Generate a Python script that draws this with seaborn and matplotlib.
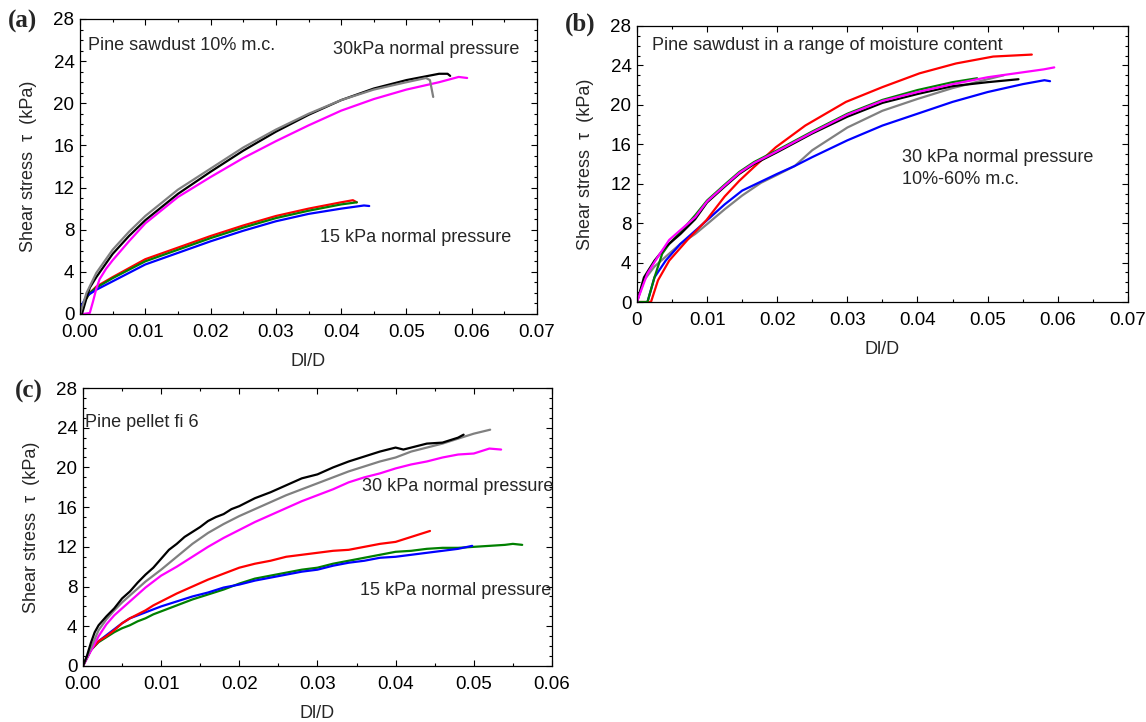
import pandas as pd
import seaborn as sns
import matplotlib.pyplot as plt
from matplotlib.ticker import MultipleLocator, FormatStrFormatter

# ---- panel (a): pine sawdust 10% m.c. ----
a_black_x = [0.0003, 0.001, 0.0015, 0.0025, 0.005, 0.0075, 0.01, 0.015, 0.02, 0.025, 0.03, 0.035, 0.04, 0.045, 0.05, 0.055, 0.0563, 0.0567]
a_black_y = [0.0, 1.5, 2.5, 3.5, 5.7, 7.4, 8.9, 11.4, 13.5, 15.5, 17.3, 18.9, 20.3, 21.4, 22.2, 22.8, 22.8, 22.6]
a_grey_x = [0.0, 0.001, 0.0025, 0.005, 0.0075, 0.01, 0.015, 0.02, 0.025, 0.03, 0.035, 0.04, 0.045, 0.05, 0.053, 0.0536, 0.0541]
a_grey_y = [0.0, 2.0, 3.9, 6.1, 7.8, 9.3, 11.8, 13.8, 15.8, 17.5, 19.0, 20.3, 21.3, 22.0, 22.4, 22.2, 20.6]
a_magenta_x = [0.0005, 0.0015, 0.002, 0.0025, 0.003, 0.004, 0.005, 0.0075, 0.01, 0.015, 0.02, 0.025, 0.03, 0.035, 0.04, 0.045, 0.05, 0.055, 0.058, 0.0593]
a_magenta_y = [0.0, 0.1, 1.2, 2.4, 3.3, 4.3, 5.1, 6.9, 8.6, 11.1, 13.0, 14.8, 16.4, 17.9, 19.3, 20.4, 21.3, 22.0, 22.5, 22.4]
a_red_x = [0.001, 0.0015, 0.0025, 0.005, 0.01, 0.015, 0.02, 0.025, 0.03, 0.035, 0.04, 0.0418, 0.0424]
a_red_y = [1.5, 2.0, 2.6, 3.5, 5.2, 6.3, 7.4, 8.4, 9.3, 10.0, 10.6, 10.8, 10.6]
a_green_x = [0.001, 0.0015, 0.0025, 0.005, 0.01, 0.015, 0.02, 0.025, 0.03, 0.035, 0.04, 0.0424]
a_green_y = [1.5, 2.0, 2.5, 3.4, 5.0, 6.1, 7.2, 8.2, 9.1, 9.8, 10.4, 10.6]
a_blue_x = [0.0, 0.001, 0.0025, 0.005, 0.01, 0.015, 0.02, 0.025, 0.03, 0.035, 0.04, 0.0435, 0.0443]
a_blue_y = [0.5, 1.7, 2.3, 3.1, 4.7, 5.8, 6.9, 7.9, 8.8, 9.5, 10.0, 10.3, 10.25]

# ---- panel (b): pine sawdust, 10%-60% m.c., 30 kPa ----
b_red_x = [0.0, 0.002, 0.003, 0.0046, 0.0072, 0.0099, 0.0125, 0.0146, 0.0167, 0.0198, 0.024, 0.0298, 0.035, 0.0403, 0.0455, 0.0508, 0.0563]
b_red_y = [0.0, 0.0, 2.2, 4.2, 6.3, 8.3, 10.7, 12.3, 13.7, 15.7, 17.9, 20.3, 21.8, 23.2, 24.2, 24.9, 25.1]
b_green_x = [0.0, 0.0015, 0.0025, 0.0036, 0.0046, 0.0062, 0.0083, 0.01, 0.0125, 0.0146, 0.0167, 0.02, 0.025, 0.03, 0.035, 0.04, 0.045, 0.0485]
b_green_y = [0.0, 0.0, 2.5, 4.9, 5.9, 7.1, 8.8, 10.3, 11.9, 13.2, 14.2, 15.4, 17.3, 19.1, 20.5, 21.5, 22.3, 22.7]
b_magenta_x = [0.0, 0.0004, 0.0015, 0.003, 0.0046, 0.0062, 0.0083, 0.01, 0.0125, 0.0146, 0.0167, 0.02, 0.025, 0.03, 0.035, 0.04, 0.045, 0.05, 0.055, 0.058, 0.0595]
b_magenta_y = [0.0, 0.8, 2.9, 4.6, 6.3, 7.3, 8.6, 10.2, 11.8, 13.1, 14.1, 15.3, 17.2, 19.0, 20.4, 21.3, 22.1, 22.8, 23.3, 23.6, 23.8]
b_black_x = [0.0, 0.001, 0.0025, 0.0041, 0.0062, 0.0083, 0.01, 0.0125, 0.0146, 0.0167, 0.02, 0.025, 0.03, 0.035, 0.04, 0.045, 0.05, 0.0544]
b_black_y = [0.0, 2.5, 4.2, 5.6, 6.9, 8.4, 10.1, 11.7, 13.0, 14.0, 15.2, 17.1, 18.8, 20.2, 21.1, 21.9, 22.3, 22.6]
b_grey_x = [0.0, 0.001, 0.0025, 0.0041, 0.0062, 0.0083, 0.01, 0.0125, 0.015, 0.0177, 0.02, 0.0225, 0.025, 0.03, 0.035, 0.04, 0.045, 0.05, 0.0523]
b_grey_y = [0.0, 2.2, 3.6, 4.6, 5.9, 6.9, 7.9, 9.4, 10.8, 12.1, 12.9, 13.8, 15.4, 17.7, 19.4, 20.6, 21.7, 22.6, 23.0]
b_blue_x = [0.0015, 0.0025, 0.0041, 0.0062, 0.01, 0.0125, 0.015, 0.02, 0.0225, 0.025, 0.03, 0.035, 0.04, 0.045, 0.05, 0.055, 0.0581, 0.0589]
b_blue_y = [0.0, 2.5, 4.2, 5.9, 8.3, 9.9, 11.3, 13.0, 13.8, 14.7, 16.4, 17.9, 19.1, 20.3, 21.3, 22.1, 22.5, 22.4]

# ---- panel (c): pine pellet fi 6 ----
c_black_x = [0.0, 0.0005, 0.001, 0.0015, 0.002, 0.003, 0.004, 0.005, 0.006, 0.007, 0.008, 0.009, 0.01, 0.011, 0.012, 0.013, 0.014, 0.015, 0.016, 0.017, 0.018, 0.019, 0.02, 0.022, 0.024, 0.026, 0.028, 0.03, 0.032, 0.034, 0.036, 0.038, 0.04, 0.041, 0.042, 0.044, 0.046, 0.048, 0.0487]
c_black_y = [0.0, 1.0, 2.3, 3.4, 4.1, 5.0, 5.8, 6.8, 7.5, 8.4, 9.2, 9.9, 10.8, 11.7, 12.3, 13.0, 13.5, 14.0, 14.6, 15.0, 15.3, 15.8, 16.1, 16.9, 17.5, 18.2, 18.9, 19.3, 20.0, 20.6, 21.1, 21.6, 22.0, 21.8, 22.0, 22.4, 22.5, 23.0, 23.3]
c_grey_x = [0.0, 0.001, 0.002, 0.003, 0.004, 0.005, 0.006, 0.007, 0.008, 0.009, 0.01, 0.012, 0.014, 0.016, 0.018, 0.02, 0.022, 0.024, 0.026, 0.028, 0.03, 0.032, 0.034, 0.036, 0.038, 0.04, 0.042, 0.044, 0.046, 0.048, 0.05, 0.0521]
c_grey_y = [0.0, 1.8, 3.6, 4.7, 5.6, 6.4, 7.1, 7.8, 8.5, 9.1, 9.7, 11.0, 12.3, 13.4, 14.3, 15.1, 15.8, 16.5, 17.2, 17.8, 18.4, 19.0, 19.6, 20.1, 20.6, 21.0, 21.6, 22.0, 22.4, 22.9, 23.4, 23.8]
c_magenta_x = [0.0, 0.001, 0.002, 0.003, 0.004, 0.005, 0.006, 0.007, 0.008, 0.009, 0.01, 0.012, 0.014, 0.016, 0.018, 0.02, 0.022, 0.024, 0.026, 0.028, 0.03, 0.032, 0.034, 0.036, 0.038, 0.04, 0.042, 0.044, 0.046, 0.048, 0.05, 0.052, 0.0535]
c_magenta_y = [0.0, 1.5, 3.0, 4.2, 5.1, 5.8, 6.5, 7.2, 7.9, 8.5, 9.1, 10.0, 11.0, 12.0, 12.9, 13.7, 14.5, 15.2, 15.9, 16.6, 17.2, 17.8, 18.5, 19.0, 19.4, 19.9, 20.3, 20.6, 21.0, 21.3, 21.4, 21.9, 21.8]
c_red_x = [0.0, 0.001, 0.002, 0.003, 0.004, 0.005, 0.006, 0.007, 0.008, 0.009, 0.01, 0.012, 0.014, 0.016, 0.018, 0.02, 0.022, 0.024, 0.026, 0.028, 0.03, 0.032, 0.034, 0.036, 0.038, 0.04, 0.042, 0.0444]
c_red_y = [0.0, 1.6, 2.5, 3.0, 3.6, 4.3, 4.8, 5.2, 5.6, 6.1, 6.5, 7.3, 8.0, 8.7, 9.3, 9.9, 10.3, 10.6, 11.0, 11.2, 11.4, 11.6, 11.7, 12.0, 12.3, 12.5, 13.0, 13.6]
c_blue_x = [0.0, 0.001, 0.002, 0.003, 0.004, 0.005, 0.006, 0.007, 0.008, 0.009, 0.01, 0.012, 0.014, 0.016, 0.018, 0.02, 0.022, 0.024, 0.026, 0.028, 0.03, 0.032, 0.034, 0.036, 0.038, 0.04, 0.042, 0.044, 0.046, 0.048, 0.0498]
c_blue_y = [0.0, 1.6, 2.5, 3.1, 3.7, 4.3, 4.8, 5.1, 5.4, 5.7, 6.0, 6.5, 7.0, 7.4, 7.9, 8.2, 8.6, 8.9, 9.2, 9.5, 9.7, 10.1, 10.4, 10.6, 10.9, 11.0, 11.2, 11.4, 11.6, 11.8, 12.1]
c_green_x = [0.0, 0.001, 0.002, 0.003, 0.004, 0.005, 0.006, 0.007, 0.008, 0.009, 0.01, 0.012, 0.014, 0.016, 0.018, 0.02, 0.022, 0.024, 0.026, 0.028, 0.03, 0.032, 0.034, 0.036, 0.038, 0.04, 0.042, 0.044, 0.046, 0.048, 0.05, 0.052, 0.054, 0.055, 0.0562]
c_green_y = [0.0, 1.6, 2.4, 2.9, 3.4, 3.8, 4.1, 4.5, 4.8, 5.2, 5.5, 6.1, 6.7, 7.2, 7.7, 8.3, 8.8, 9.1, 9.4, 9.7, 9.9, 10.3, 10.6, 10.9, 11.2, 11.5, 11.6, 11.8, 11.9, 11.9, 12.0, 12.1, 12.2, 12.3, 12.2]

sns.set_style("ticks")
plt.rcParams["font.family"] = ["Liberation Sans", "DejaVu Sans"]

C = {"black": "#000000", "grey": "#808080", "magenta": "#ff00ff",
     "red": "#ff0000", "green": "#008000", "blue": "#0000ff"}

fig = plt.figure(figsize=(11.46, 7.22), dpi=100)
ax_a = fig.add_axes([0.0698, 0.5651, 0.3988, 0.4086])
ax_b = fig.add_axes([0.5558, 0.5817, 0.4284, 0.3823])
ax_c = fig.add_axes([0.0724, 0.0776, 0.4092, 0.3850])


def draw(ax, curves):
    for name, xs, ys in curves:
        sns.lineplot(x=xs, y=ys, color=C[name], lw=1.6, sort=False,
                     estimator=None, ax=ax)


def style(ax, xmax, fmt):
    ax.set_xlim(0, xmax)
    ax.set_ylim(0, 28)
    ax.xaxis.set_major_locator(MultipleLocator(0.01))
    ax.xaxis.set_minor_locator(MultipleLocator(0.005))
    ax.yaxis.set_major_locator(MultipleLocator(4))
    ax.yaxis.set_minor_locator(MultipleLocator(1))
    ax.xaxis.set_major_formatter(fmt)
    ax.tick_params(which="both", direction="in", top=True, right=True,
                   labelsize=13.5, colors="black", width=0.8)
    ax.tick_params(which="major", length=4)
    ax.tick_params(axis="x", which="major", pad=7)
    ax.tick_params(axis="y", which="major", pad=4)
    ax.tick_params(which="minor", length=2)
    for s in ax.spines.values():
        s.set_linewidth(0.9)
        s.set_color("black")
    ax.set_xlabel("Dl/D", fontsize=13, labelpad=9)
    ax.set_ylabel("Shear stress  τ  (kPa)", fontsize=13, labelpad=12)


draw(ax_a, [("red", a_red_x, a_red_y), ("green", a_green_x, a_green_y),
            ("blue", a_blue_x, a_blue_y), ("magenta", a_magenta_x, a_magenta_y),
            ("black", a_black_x, a_black_y), ("grey", a_grey_x, a_grey_y)])
style(ax_a, 0.07, FormatStrFormatter("%.2f"))
ax_a.text(0.0012, 25.5, "Pine sawdust 10% m.c.", fontsize=13, va="center")
ax_a.text(0.0387, 25.1, "30kPa normal pressure", fontsize=13, va="center")
ax_a.text(0.0368, 7.3, "15 kPa normal pressure", fontsize=13, va="center")

draw(ax_b, [("grey", b_grey_x, b_grey_y), ("blue", b_blue_x, b_blue_y),
            ("red", b_red_x, b_red_y), ("green", b_green_x, b_green_y),
            ("black", b_black_x, b_black_y), ("magenta", b_magenta_x, b_magenta_y)])
style(ax_b, 0.07, FormatStrFormatter("%g"))
ax_b.text(0.0022, 26.0, "Pine sawdust in a range of moisture content", fontsize=13, va="center")
ax_b.text(0.0378, 14.7, "30 kPa normal pressure", fontsize=13, va="center")
ax_b.text(0.0378, 12.4, "10%-60% m.c.", fontsize=13, va="center")

draw(ax_c, [("green", c_green_x, c_green_y), ("blue", c_blue_x, c_blue_y),
            ("red", c_red_x, c_red_y), ("magenta", c_magenta_x, c_magenta_y),
            ("grey", c_grey_x, c_grey_y), ("black", c_black_x, c_black_y)])
style(ax_c, 0.06, FormatStrFormatter("%.2f"))
ax_c.text(0.0003, 24.5, "Pine pellet fi 6", fontsize=13, va="center")
ax_c.text(0.0357, 18.1, "30 kPa normal pressure", fontsize=13, va="center")
ax_c.text(0.0354, 7.65, "15 kPa normal pressure", fontsize=13, va="center")

# panel letters
for lbl, fx, fy in [("(a)", 0.020, 0.970), ("(b)", 0.506, 0.966), ("(c)", 0.025, 0.458)]:
    fig.text(fx, fy, lbl, fontsize=18, fontweight="bold", family="Liberation Serif",
             ha="center", va="center")

fig.savefig("out.png", dpi=100, facecolor="white")
